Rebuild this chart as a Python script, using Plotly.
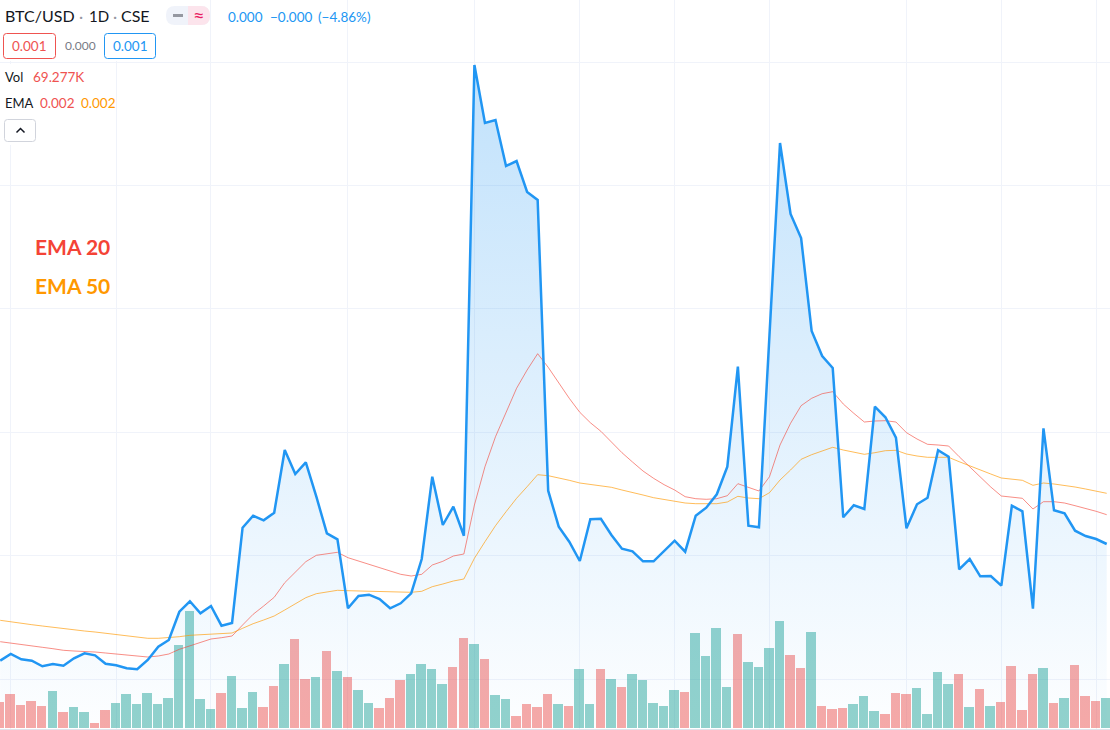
import plotly.graph_objects as go

# Close prices (scaled chart units), one per daily session
close = [67.3, 74, 68.7, 67.3, 61.7, 64, 62.3, 69.7, 74.7, 72.7, 64.3, 62.7, 59.7, 58.7, 68, 81.3, 88, 116.3, 126.7, 114.7,
         122, 102.3, 105, 200.3, 212.3, 207.7, 215.3, 278, 254, 265.7, 231.3, 194.7, 188.7, 119.7, 132, 133.3, 129, 119.7, 124.7, 134.7,
         169, 251.3, 203, 221.3, 192.3, 663, 605, 608, 562, 567, 536, 528, 237.3, 201.3, 186.3, 167, 208.7, 209.3, 193, 179.3,
         176.7, 166.7, 166.7, 177, 187.3, 176.3, 212.3, 220.3, 233.7, 261.3, 361.3, 202.3, 200.7, 393, 585, 514, 490, 397, 372, 360,
         210.7, 222.7, 219, 321.3, 310.7, 290.3, 199.7, 223.7, 230.3, 277.7, 271.3, 158.7, 169, 151.7, 152, 142.3, 222.3, 216.7, 119.3, 299.7,
         217.7, 214.7, 197.3, 192, 189, 184]

ema20 = [86.3, 85, 84, 82.3, 80.7, 79.3, 77.7, 77, 76.7, 76, 75, 74, 73, 71.3, 71, 72, 74, 78.7, 82.3, 85.7,
         89, 90.3, 92, 103, 113.7, 122, 130.7, 145.3, 156.3, 166.3, 172.7, 174.3, 175.7, 170.3, 167, 163.3, 160.3, 156.7, 153.7, 152,
         153.7, 163, 166.7, 172, 174, 223, 261.3, 291.3, 316.3, 339.7, 358, 374.3, 360.7, 344.7, 329.7, 315.7, 305.3, 296.7, 286, 275.3,
         266, 257, 249.7, 243.3, 238, 231.3, 229.3, 228.7, 229.3, 232.3, 244.3, 240.3, 237, 251.3, 283, 304.7, 322.3, 329.7, 334.3, 336.3,
         324, 314.7, 306, 307, 307.3, 306, 295.3, 289, 283.7, 283, 282, 271.3, 261.3, 250.7, 241, 232, 231, 229.7, 219, 226.3,
         226.3, 225, 222.3, 219.7, 216.7, 213.3]

ema50 = [107.7, 106, 104.7, 103.3, 102, 100.7, 99, 98, 97, 96, 94.7, 93.7, 92.7, 91.3, 89.7, 89.7, 90.3, 91.3, 92.7, 93.3,
         94.3, 94.7, 95, 99.7, 104.3, 108, 112, 118, 124, 130.3, 134.3, 136, 137.7, 137.3, 137, 137, 136.3, 136, 135.7, 135.7,
         136.7, 141.3, 144, 147, 149, 169.7, 186.3, 202.3, 216.3, 229.7, 241.3, 253.3, 252.3, 250.3, 247.7, 245, 243.7, 242.3, 240.7, 238,
         235.7, 233, 230.3, 228.3, 226.7, 225, 224.3, 224, 224.3, 226, 231.7, 230, 229.3, 235.3, 248, 258, 268.7, 273.3, 277.3, 280.7,
         278, 275.7, 273.7, 275.3, 277.3, 277.7, 274, 272, 270.7, 270.7, 270.7, 266.3, 262, 257.7, 254, 250, 249, 247.7, 242.7, 245,
         244, 242.7, 241, 239, 237, 234.7]

# Traded volume in thousands
volume = [60.0, 78.5, 53.1, 62.4, 50.8, 85.5, 37.0, 48.5, 37.0, 11.5, 41.6, 57.7, 78.5, 55.4, 80.8, 55.4, 69.3, 191.7, 270.2, 67.0,
          43.9, 80.8, 120.1, 46.2, 83.1, 48.5, 97.0, 147.8, 205.5, 113.2, 117.8, 177.8, 131.6, 117.8, 87.8, 57.7, 46.2, 69.3, 110.8, 124.7,
          147.8, 136.2, 101.6, 140.9, 207.8, 194.0, 159.3, 76.2, 67.0, 27.7, 55.4, 48.5, 78.5, 55.4, 50.8, 136.2, 55.4, 136.2, 113.2, 94.7,
          124.7, 110.8, 57.7, 50.8, 87.8, 83.1, 219.4, 166.3, 230.9, 94.7, 217.1, 152.4, 140.9, 184.8, 247.1, 168.6, 138.6, 221.7, 50.8, 43.9,
          46.2, 55.4, 73.9, 39.3, 32.3, 80.8, 78.5, 92.4, 32.3, 129.3, 101.6, 124.7, 48.5, 90.1, 50.8, 60.0, 143.2, 41.6, 124.7, 138.6,
          57.7, 69.3, 145.5, 73.9, 62.4, 69.277]

# Sessions whose volume bar is drawn in the falling colour
falling = {0, 1, 2, 3, 4, 6, 9, 10, 21, 25, 26, 28, 29, 31, 33, 36, 37, 38, 43, 44, 46, 49, 50, 51, 52, 54, 57, 59, 65, 70,
           75, 76, 78, 79, 80, 84, 85, 86, 91, 93, 95, 96, 97, 98, 100, 102, 103, 104}

# Sessions carrying a vertical grid line
date_ticks = [1, 11, 20, 33, 45, 55, 64, 73, 86, 95, 104]

sessions = list(range(len(close)))
W, H, BOTTOM = 1110, 730, 1
PLOT_H = H - BOTTOM


def px(x):
    return x / W


def py(y):
    return 1 - y / PLOT_H


def rounded_rect(x0, y0, x1, y1, r):
    a, b, c, d = px(x0), py(y0), px(x1), py(y1)
    rx, ry = r / W, r / PLOT_H
    return (f"M {a + rx} {b} L {c - rx} {b} Q {c} {b} {c} {b - ry} L {c} {d + ry} Q {c} {d} {c - rx} {d} "
            f"L {a + rx} {d} Q {a} {d} {a} {d + ry} L {a} {b - ry} Q {a} {b} {a + rx} {b} Z")


def label(x, y, text, color, size, bold=False, anchor="left"):
    return dict(xref="paper", yref="paper", x=px(x), y=py(y), text=f"<b>{text}</b>" if bold else text,
                showarrow=False, xanchor=anchor, yanchor="middle", align="left",
                font=dict(color=color, size=size), borderpad=0, borderwidth=0)


def panel(x0, y0, x1, y1, fill="#ffffff", line=None, r=0, width=1):
    style = dict(type="path", xref="paper", yref="paper", layer="above",
                 path=rounded_rect(x0, y0, x1, y1, r), fillcolor=fill,
                 line=dict(color=line or "rgba(0,0,0,0)", width=width if line else 0))
    return style


fig = go.Figure()

# Volume bars sit beneath the price series
fig.add_trace(go.Bar(x=sessions, y=volume, width=0.9, offset=-0.51, yaxis="y", hoverinfo="skip",
                     marker=dict(color=["rgba(239,83,80,0.5)" if i in falling else "rgba(38,166,154,0.5)" for i in sessions],
                                 line=dict(width=0))))

# Price area with a vertical fade towards the baseline
fig.add_trace(go.Scatter(x=sessions, y=close, yaxis="y2", mode="lines", fill="tozeroy",
                         fillgradient=dict(type="vertical", start=663, stop=0,
                                           colorscale=[[0, "rgba(33,150,243,0.28)"], [1, "rgba(33,150,243,0.01)"]]),
                         line=dict(color="rgba(0,0,0,0)", width=0), hoverinfo="skip"))
fig.add_trace(go.Scatter(x=sessions, y=ema20, yaxis="y2", mode="lines",
                         line=dict(color="rgba(244,67,54,0.6)", width=1), hoverinfo="skip"))
fig.add_trace(go.Scatter(x=sessions, y=ema50, yaxis="y2", mode="lines",
                         line=dict(color="rgba(255,152,0,0.65)", width=1), hoverinfo="skip"))
fig.add_trace(go.Scatter(x=sessions, y=close, yaxis="y2", mode="lines",
                         line=dict(color="#2196f3", width=2.5), hoverinfo="skip"))

shapes = [
    # Legend backing panels hide the grid behind the text rows
    panel(0, 0, 162, 61),
    panel(0, 64, 88, 90),
    panel(0, 90, 116, 116),
    panel(0, 116, 40, 145),
    # Open and close boxes
    panel(3.5, 33.5, 55.5, 58.5, line="#ef5350", r=3),
    panel(104.5, 33.5, 155.5, 58.5, line="#2196f3", r=3),
    # Market status pill
    panel(166, 6, 210, 25, fill="#f0f3fa", r=9),
    dict(type="path", xref="paper", yref="paper", layer="above",
         path=f"M {px(188)} {py(6)} L {px(201)} {py(6)} Q {px(210)} {py(6)} {px(210)} {py(15.5)} "
              f"Q {px(210)} {py(25)} {px(201)} {py(25)} L {px(188)} {py(25)} Z",
         fillcolor="#fce4ec", line=dict(width=0)),
    dict(type="path", xref="paper", yref="paper", layer="above",
         path=f"M {px(173)} {py(15.5)} L {px(183)} {py(15.5)}",
         line=dict(color="#9598a1", width=3)),
    # Collapse button
    panel(4.5, 119.5, 35.5, 141.5, line="#d1d4dc", r=3),
    dict(type="path", xref="paper", yref="paper", layer="above",
         path=f"M {px(16.5)} {py(132.5)} L {px(20.5)} {py(128.5)} L {px(24.5)} {py(132.5)}",
         line=dict(color="#131722", width=1.5)),
]

FONT = "Lato, 'Noto Sans', sans-serif"
annotations = [
    label(5, 16, "BTC/USD", "#131722", 16),
    label(79, 16, "·", "#9598a1", 16),
    label(89, 16, "1D", "#131722", 15),
    label(112.5, 16, "·", "#9598a1", 16),
    label(121, 16, "CSE", "#131722", 16),
    label(198.5, 15, "≈", "#e91e63", 20, anchor="center"),
    label(228, 17, "0.000", "#2196f3", 13.5),
    label(270, 17, "−0.000", "#2196f3", 13.5),
    label(318, 17, "(−4.86%)", "#2196f3", 13.5),
    label(29.5, 46, "0.001", "#ef5350", 13.5, anchor="center"),
    label(65, 45.5, "0.000", "#787b86", 12),
    label(130, 46, "0.001", "#2196f3", 13.5, anchor="center"),
    label(5, 77, "Vol", "#131722", 13),
    label(33, 77, "69.277K", "#ef5350", 13.5),
    label(5, 103, "EMA", "#131722", 13),
    label(40, 103, "0.002", "#ef5350", 13.5),
    label(81, 103, "0.002", "#ff9800", 13.5),
    label(35, 247, "EMA 20", "#f44336", 21, bold=True),
    label(35, 285, "EMA 50", "#ff9800", 21, bold=True),
]

GRID = "#f0f3fa"
fig.update_layout(
    width=W, height=H, margin=dict(l=0, r=0, t=0, b=BOTTOM),
    paper_bgcolor="#ffffff", plot_bgcolor="#ffffff", showlegend=False,
    bargap=0, font=dict(family=FONT),
    shapes=shapes, annotations=annotations,
    xaxis=dict(range=[-0.02, 105.313], tickmode="array", tickvals=date_ticks, showticklabels=False,
               showgrid=True, gridcolor=GRID, gridwidth=1, zeroline=False,
               showline=True, linecolor="#e0e3eb", linewidth=1, ticks=""),
    yaxis=dict(range=[-2.309, 1681], showgrid=False, zeroline=False, showticklabels=False, ticks=""),
    yaxis2=dict(range=[-1, 728], overlaying="y", side="left", tick0=49, dtick=123.4, showgrid=True,
                gridcolor=GRID, gridwidth=1, zeroline=False, showticklabels=False, ticks=""),
)

fig.write_html("out.html")
